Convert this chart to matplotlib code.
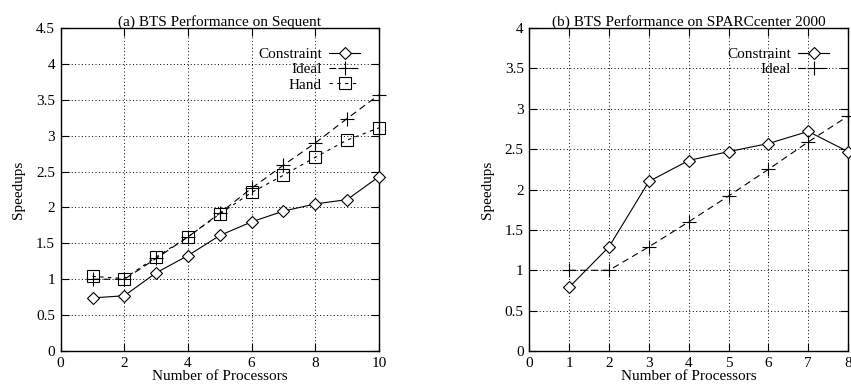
import matplotlib
matplotlib.use("Agg")
import matplotlib.pyplot as plt

plt.rcParams['font.family'] = ['Liberation Serif', 'DejaVu Serif']
plt.rcParams['font.size'] = 11

# Panel (a) data: Sequent
procs_a = [1, 2, 3, 4, 5, 6, 7, 8, 9, 10]
constraint_a = [0.74, 0.77, 1.09, 1.33, 1.61, 1.80, 1.95, 2.05, 2.11, 2.43]
ideal_a = [1.00, 1.00, 1.29, 1.59, 1.92, 2.27, 2.59, 2.90, 3.24, 3.57]
hand_a = [1.04, 1.01, 1.31, 1.59, 1.91, 2.21, 2.45, 2.70, 2.94, 3.11]

# Panel (b) data: SPARCcenter 2000
procs_b = [1, 2, 3, 4, 5, 6, 7, 8]
constraint_b = [0.79, 1.29, 2.10, 2.36, 2.47, 2.57, 2.72, 2.47]
ideal_b = [1.00, 1.00, 1.29, 1.60, 1.92, 2.25, 2.59, 2.91]

xticks_a = [0, 2, 4, 6, 8, 10]
yticks_a = [0, 0.5, 1, 1.5, 2, 2.5, 3, 3.5, 4, 4.5]
xticks_b = [0, 1, 2, 3, 4, 5, 6, 7, 8]
yticks_b = [0, 0.5, 1, 1.5, 2, 2.5, 3, 3.5, 4]

fig = plt.figure(figsize=(8.51, 3.89), dpi=100)
ax1 = fig.add_axes([0.0713, 0.0977, 0.374, 0.830])
ax2 = fig.add_axes([0.622, 0.0977, 0.3745, 0.830])


def fmt(v):
    return ('%g' % v)


def style(ax, xt, yt, xmax, ymax, title):
    ax.set_xlim(0, xmax)
    ax.set_ylim(0, ymax)
    ax.set_xticks(xt)
    ax.set_yticks(yt)
    ax.set_xticklabels([fmt(v) for v in xt])
    ax.set_yticklabels([fmt(v) for v in yt])
    ax.tick_params(direction='in', length=6, width=0.8, top=True, right=True,
                   labelsize=11)
    ax.tick_params(axis='x', pad=4)
    ax.tick_params(axis='y', pad=4)
    ax.grid(True, linestyle=(0, (1, 2.5)), color='black', linewidth=0.7)
    for s in ax.spines.values():
        s.set_linewidth(1.0)
    ax.set_title(title, fontsize=11, pad=2)
    ax.set_xlabel('Number of Processors', fontsize=11, labelpad=0)
    ax.set_ylabel('Speedups', fontsize=11, labelpad=8)


lw = 0.8
ax1.plot(procs_a, constraint_a, '-', color='black', lw=lw, marker='D', ms=6,
         mfc='white', mec='black', mew=0.8, label='Constraint', clip_on=False, zorder=3)
ax1.plot(procs_a, ideal_a, color='black', lw=lw, linestyle=(0, (6, 4)), marker='+',
         ms=10, mew=0.8, label='Ideal', clip_on=False, zorder=3)
ax1.plot(procs_a, hand_a, color='black', lw=lw, linestyle=(0, (3, 4)), marker='s',
         ms=9, mfc='none', mec='black', mew=0.8, label='Hand', clip_on=False, zorder=3)

ax2.plot(procs_b, constraint_b, '-', color='black', lw=lw, marker='D', ms=6,
         mfc='white', mec='black', mew=0.8, label='Constraint', clip_on=False, zorder=3)
ax2.plot(procs_b, ideal_b, color='black', lw=lw, linestyle=(0, (6, 4)), marker='+',
         ms=10, mew=0.8, label='Ideal', clip_on=False, zorder=3)

style(ax1, xticks_a, yticks_a, 10, 4.5, '(a) BTS Performance on Sequent')
style(ax2, xticks_b, yticks_b, 8, 4, '(b) BTS Performance on SPARCcenter 2000')

for ax in (ax1, ax2):
    leg = ax.legend(loc='upper right', bbox_to_anchor=(0.94, 0.94), frameon=False,
                    markerfirst=False, fontsize=11, handlelength=2.0,
                    handletextpad=0.5, labelspacing=0.1, borderaxespad=0,
                    borderpad=0)

fig.savefig('out.png', dpi=100)
